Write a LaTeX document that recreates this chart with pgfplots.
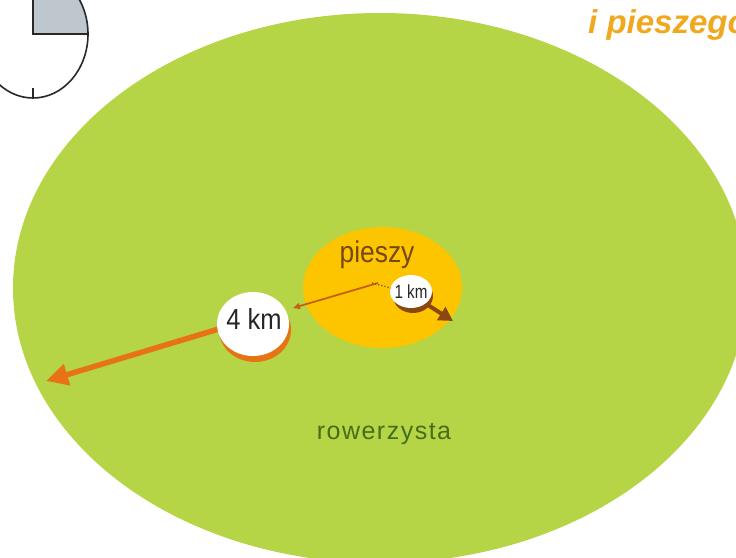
\documentclass[border=0pt]{standalone}
\usepackage{pgfplots}
\pgfplotsset{compat=1.18}
\usepackage{fontspec}
\setmainfont{Liberation Sans}
\newfontfamily\narrowfont[FakeStretch=0.88]{Liberation Sans}
\newfontfamily\narrowerfont[FakeStretch=0.8]{Liberation Sans}
\newfontfamily\spacedfont[LetterSpace=6]{Liberation Sans}
\usetikzlibrary{arrows.meta}
\definecolor{grass}{RGB}{181,213,70}
\definecolor{walk}{RGB}{253,196,0}
\definecolor{arrOr}{RGB}{232,115,20}
\definecolor{arrBr}{RGB}{140,70,15}
\definecolor{txtBr}{RGB}{120,72,20}
\definecolor{txtGr}{RGB}{70,110,25}
\definecolor{titleOr}{RGB}{240,168,30}
\definecolor{clockGray}{RGB}{190,198,206}
\definecolor{clockLine}{RGB}{40,40,40}
\begin{document}
\begin{tikzpicture}
\begin{axis}[scale only axis, width=736pt, height=557pt,
  xmin=0, xmax=736, ymin=0, ymax=557, y dir=reverse,
  axis lines=none, clip=false]
% clock
\begin{scope}
\clip (axis cs:33,34) rectangle (axis cs:100,-40);
\fill[clockGray] (axis cs:33,34) ellipse [x radius=55, y radius=64];
\end{scope}
\draw[clockLine, line width=1.6pt] (axis cs:33,34) ellipse [x radius=55, y radius=64];
\addplot[clockLine, line width=1.6pt] coordinates {(33,-40) (33,34) (88,34)};
\addplot[clockLine, line width=1.4pt] coordinates {(33,88) (33,98)};
% title
\node[anchor=base west, text=titleOr, inner sep=0pt,
  font=\fontsize{33}{36}\selectfont\bfseries\itshape] at (axis cs:588,33) {i pieszego};
% cyclist area
\fill[grass] (axis cs:380,288) ellipse [x radius=367, y radius=275];
% pedestrian area
\fill[walk] (axis cs:382.5,287.5) ellipse [x radius=79.5, y radius=60.5];
% big orange arrow
\addplot[arrOr, line width=5.5pt, -{Triangle[length=22pt,width=21pt]}]
  coordinates {(222,328) (46,381)};
% brown arrow
\addplot[arrBr, line width=4pt, -{Triangle[length=14pt,width=15pt]}]
  coordinates {(420,300) (453,321)};
% 4 km badge
\fill[arrOr] (axis cs:255,330) ellipse [x radius=36, y radius=32];
\fill[white] (axis cs:253,324) ellipse [x radius=36, y radius=32];
% 1 km badge
\fill[arrBr] (axis cs:413,296) ellipse [x radius=20, y radius=17];
\fill[white] (axis cs:411,291.5) ellipse [x radius=21, y radius=16.5];
% thin connector line
\addplot[arrOr!85!black, line width=1.8pt, -{Triangle[length=7pt,width=6pt]}]
  coordinates {(378,283) (293,308)};
\addplot[arrBr, line width=1.2pt, dotted] coordinates {(372,283) (391,288)};
% labels
\node[anchor=base, text=txtBr, inner sep=0pt,
  font=\narrowfont\fontsize{30}{34}\selectfont] at (axis cs:377,262.5) {pieszy};
\node[anchor=base, text=txtGr, inner sep=0pt,
  font=\spacedfont\fontsize{25}{28}\selectfont] at (axis cs:384,439) {rowerzysta};
\node[anchor=base, text=black!85, inner sep=0pt,
  font=\narrowfont\fontsize{29}{32}\selectfont] at (axis cs:254,329) {4 km};
\node[anchor=base, text=black!85, inner sep=0pt,
  font=\narrowerfont\fontsize{19}{22}\selectfont] at (axis cs:411,298) {1 km};
\end{axis}
\pgfresetboundingbox
\useasboundingbox (0,0) rectangle (736pt,557pt);
\end{tikzpicture}
\end{document}
